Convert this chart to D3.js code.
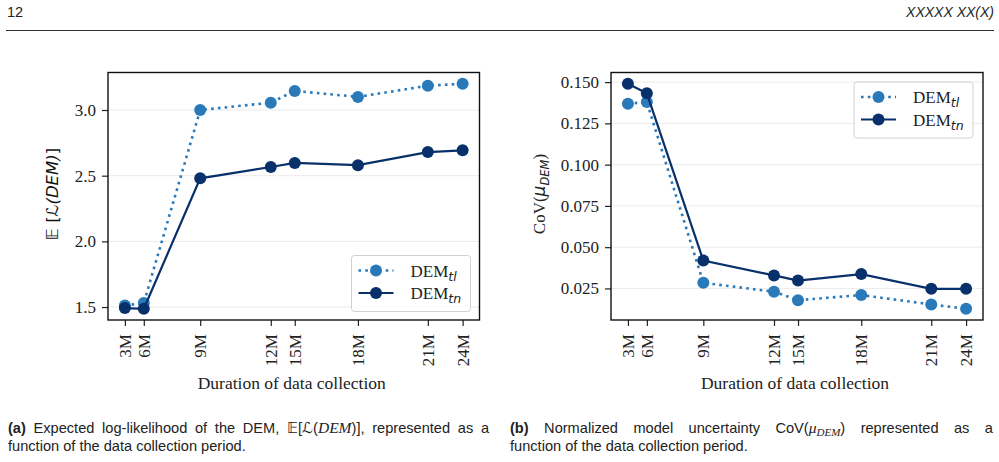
<!DOCTYPE html>
<html>
<head>
<meta charset="utf-8">
<script src="https://cdn.jsdelivr.net/npm/d3@7"></script>
<style>
  body { margin: 0; background: #fff; }
  svg { display: block; }
</style>
</head>
<body>
<div id="chart"></div>
<script>
// collection periods and their position along the x axis (share of collected data, %)
const periods = ["3M", "6M", "9M", "12M", "15M", "18M", "21M", "24M"]
const collected = [0, 5.6, 22.3, 43.2, 50.3, 69.0, 89.7, 100]

// panel (a): expected log-likelihood
const llTl = [1.512, 1.530, 3.000, 3.056, 3.145, 3.100, 3.185, 3.200]
const llTn = [1.492, 1.487, 2.480, 2.566, 2.597, 2.580, 2.680, 2.693]
const llTicks = [1.5, 2.0, 2.5, 3.0]

// panel (b): CoV of mu_DEM
const covTl = [0.1369, 0.1379, 0.0284, 0.0230, 0.0179, 0.0210, 0.0153, 0.0127]
const covTn = [0.1490, 0.1432, 0.0419, 0.0329, 0.0298, 0.0337, 0.0248, 0.0248]
const covTicks = [0.025, 0.050, 0.075, 0.100, 0.125, 0.150]

const colTl = "#2a7ab9"
const colTn = "#08306b"
const serif = "'Liberation Serif', 'Times New Roman', serif"
const sans = "'DejaVu Sans', sans-serif"
const capFont = "'Liberation Sans', Arial, sans-serif"

const width = 999, height = 462

const svg = d3.select("#chart").append("svg")
  .attr("width", width).attr("height", height)

// page header
svg.append("text").attr("x", 7).attr("y", 17)
  .attr("font-family", capFont).attr("font-size", 14.5).attr("fill", "#222")
  .text("12")
svg.append("text").attr("x", 994).attr("y", 17).attr("text-anchor", "end")
  .attr("font-family", capFont).attr("font-size", 14).attr("font-style", "italic").attr("fill", "#222")
  .text("XXXXX XX(X)")
svg.append("line").attr("x1", 6).attr("x2", 994).attr("y1", 30.5).attr("y2", 30.5)
  .attr("stroke", "#333").attr("stroke-width", 1)

function panel(opts) {
  const { left, right, top, bottom, tl, tn, ticks, fmt, legend } = opts
  const g = svg.append("g")

  const x = d3.scaleLinear().domain([-5, 105]).range([left, right])
  const lo = Math.min(d3.min(tl), d3.min(tn)), hi = Math.max(d3.max(tl), d3.max(tn))
  const pad = (hi - lo) * 0.05
  const y = d3.scaleLinear().domain([lo - pad, hi + pad]).range([bottom, top])

  // grid
  g.append("g").selectAll("line").data(ticks).join("line")
    .attr("x1", left).attr("x2", right)
    .attr("y1", d => y(d)).attr("y2", d => y(d))
    .attr("stroke", "#ebebeb").attr("stroke-width", 1)

  // axes
  const yAxis = g.append("g").attr("transform", `translate(${left},0)`)
    .call(d3.axisLeft(y).tickValues(ticks).tickFormat(fmt).tickSize(6).tickPadding(6))
  yAxis.select(".domain").remove()
  yAxis.selectAll(".tick line").attr("stroke", "#222").attr("stroke-width", 1.2)
  yAxis.selectAll(".tick text").attr("font-family", serif).attr("font-size", 17).attr("fill", "#222")

  const xAxis = g.append("g").attr("transform", `translate(0,${bottom})`)
    .call(d3.axisBottom(x).tickValues(collected).tickFormat((d, i) => periods[i]).tickSize(6).tickPadding(6))
  xAxis.select(".domain").remove()
  xAxis.selectAll(".tick line").attr("stroke", "#222").attr("stroke-width", 1.2)
  xAxis.selectAll(".tick text")
    .attr("font-family", serif).attr("font-size", 17).attr("fill", "#222")
    .attr("transform", "rotate(-90)")
    .attr("text-anchor", "end")
    .attr("x", -14).attr("y", 0).attr("dy", "0.33em")

  g.append("rect").attr("x", left).attr("y", top)
    .attr("width", right - left).attr("height", bottom - top)
    .attr("fill", "none").attr("stroke", "#111").attr("stroke-width", 1.4)

  // series
  const line = d3.line().x((d, i) => x(collected[i])).y(d => y(d))
  g.append("path").datum(tl).attr("d", line)
    .attr("fill", "none").attr("stroke", colTl).attr("stroke-width", 2.6)
    .attr("stroke-dasharray", "2.6,4.2")
  g.append("g").selectAll("circle").data(tl).join("circle")
    .attr("cx", (d, i) => x(collected[i])).attr("cy", d => y(d)).attr("r", 6)
    .attr("fill", colTl)
  g.append("path").datum(tn).attr("d", line)
    .attr("fill", "none").attr("stroke", colTn).attr("stroke-width", 2.2)
  g.append("g").selectAll("circle").data(tn).join("circle")
    .attr("cx", (d, i) => x(collected[i])).attr("cy", d => y(d)).attr("r", 6)
    .attr("fill", colTn)

  // x label
  g.append("text").attr("x", (left + right) / 2 - 2).attr("y", 389)
    .attr("text-anchor", "middle").attr("font-family", serif).attr("font-size", 17.5).attr("fill", "#222")
    .text("Duration of data collection")

  // legend
  const lg = g.append("g").attr("transform", `translate(${legend.x},${legend.y})`)
  lg.append("rect").attr("width", 119).attr("height", 56).attr("rx", 3)
    .attr("fill", "#fff").attr("fill-opacity", 0.85).attr("stroke", "#d0d0d0").attr("stroke-width", 1)
  const items = [
    { sub: "tl", color: colTl, dash: "2.6,4.2", w: 2.6 },
    { sub: "tn", color: colTn, dash: null, w: 2.2 }
  ]
  items.forEach((it, i) => {
    const yy = 15 + i * 22.5
    lg.append("line").attr("x1", 7).attr("x2", 42).attr("y1", yy).attr("y2", yy)
      .attr("stroke", it.color).attr("stroke-width", it.w)
      .attr("stroke-dasharray", it.dash)
    lg.append("circle").attr("cx", 24.5).attr("cy", yy).attr("r", 6).attr("fill", it.color)
    const t = lg.append("text").attr("x", 59).attr("y", yy + 6)
      .attr("font-family", serif).attr("font-size", 17).attr("fill", "#222")
    t.append("tspan").text("DEM")
    t.append("tspan").attr("dy", 4).attr("font-family", sans).attr("font-style", "italic")
      .attr("font-size", 12.5).text(it.sub)
  })
  return g
}

// (a)
panel({
  left: 108, right: 479.5, top: 72.5, bottom: 320,
  tl: llTl, tn: llTn, ticks: llTicks, fmt: d3.format(".1f"),
  legend: { x: 351.5, y: 255.5 }
})
const yl = svg.append("text").attr("transform", "translate(58,194) rotate(-90)")
  .attr("text-anchor", "middle").attr("font-family", sans).attr("font-size", 16.5).attr("fill", "#111")
yl.append("tspan").text("\u{1D53C} [")
yl.append("tspan").attr("font-style", "italic").text("\u2112(DEM)")
yl.append("tspan").text("]")

// (b)
panel({
  left: 611, right: 983, top: 72.5, bottom: 320,
  tl: covTl, tn: covTn, ticks: covTicks, fmt: d3.format(".3f"),
  legend: { x: 854, y: 82 }
})
const yr = svg.append("text").attr("transform", "translate(545,194) rotate(-90)")
  .attr("text-anchor", "middle").attr("font-family", serif).attr("font-size", 17).attr("fill", "#222")
yr.append("tspan").text("CoV(")
yr.append("tspan").attr("font-style", "italic").attr("font-family", sans).text("\u03BC")
yr.append("tspan").attr("font-style", "italic").attr("font-family", sans).attr("font-size", 11.5)
  .attr("dy", 4).text("DEM")
yr.append("tspan").attr("dy", -4).text(")")

// captions (first lines justified through word spacing)
function caption(x, y, parts, len) {
  const t = svg.append("text").attr("x", x).attr("y", y)
    .attr("font-family", capFont).attr("font-size", 14.6).attr("fill", "#222")
  parts.forEach(p => {
    const s = t.append("tspan").text(p.t)
    if (p.b) s.attr("font-weight", "bold")
    if (p.i) s.attr("font-style", "italic").attr("font-family", serif).attr("font-size", 15.5)
    if (p.dy) s.attr("dy", p.dy)
    if (p.fs) s.attr("font-size", p.fs)
  })
  if (len) {
    const natural = t.node().getComputedTextLength()
    const spaces = parts.map(p => p.t).join("").split(" ").length - 1
    t.attr("word-spacing", (len - natural) / spaces)
  }
}
caption(8, 433, [
  { t: "(a)", b: true },
  { t: " Expected log-likelihood of the DEM, \u{1D53C}[\u2112(" },
  { t: "DEM", i: true },
  { t: ")], represented as a" }
], 481)
caption(8, 451, [{ t: "function of the data collection period." }])
caption(510, 433, [
  { t: "(b)", b: true },
  { t: " Normalized model uncertainty CoV(" },
  { t: "\u03BC", i: true },
  { t: "DEM", i: true, dy: 3, fs: 11 },
  { t: ") represented as a", dy: -3 }
], 483)
caption(510, 451, [{ t: "function of the data collection period." }])
</script>
</body>
</html>
